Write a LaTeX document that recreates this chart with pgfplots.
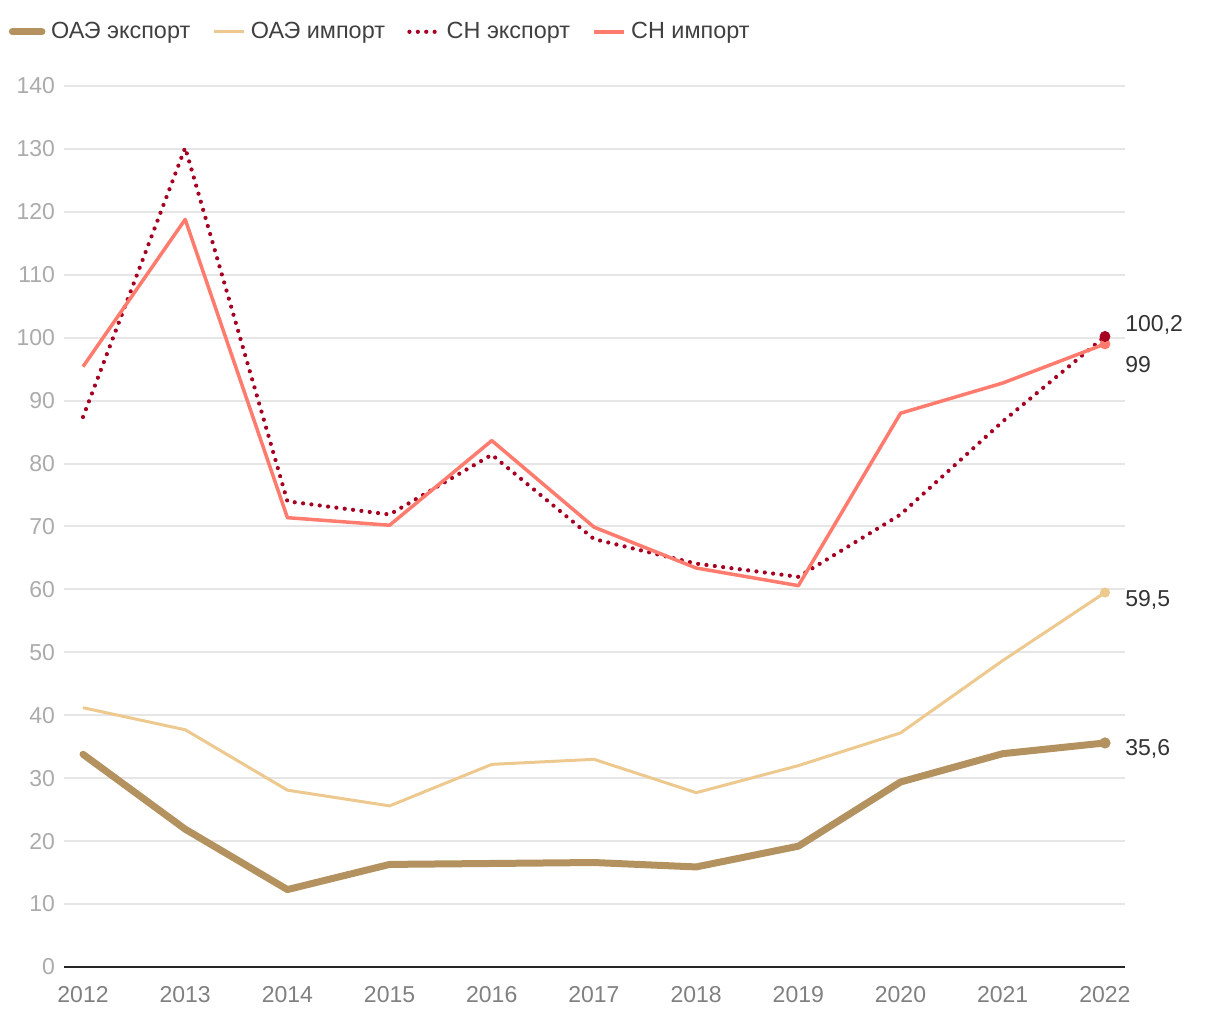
\documentclass[border=0pt]{standalone}
\usepackage{pgfplots}
\pgfplotsset{compat=1.18}
\usepackage{fontspec}
\setmainfont{Liberation Sans}
\definecolor{cBrown}{HTML}{B39260}
\definecolor{cTan}{HTML}{EDC98F}
\definecolor{cDark}{HTML}{A50021}
\definecolor{cSalmon}{HTML}{FF7B6E}
\definecolor{cGrid}{HTML}{E6E6E6}
\begin{document}
\begin{tikzpicture}
\useasboundingbox (-32pt,-26.5pt) rectangle (578pt,483.5pt);
\begin{axis}[
  at={(0pt,0pt)}, anchor=south west,
  scale only axis,
  width=530.5pt, height=440.5pt,
  xmin=2011.814, xmax=2022.196,
  ymin=0, ymax=140,
  xtick={2012,...,2022},
  ytick={0,10,...,140},
  /pgf/number format/1000 sep={},
  /pgf/number format/assume math mode=true,
  axis x line=bottom,
  axis y line=left,
  x axis line style={-, draw=black!85, line width=1.3pt},
  y axis line style={draw=none},
  major tick length=0pt,
  ymajorgrids,
  grid style={cGrid, line width=1pt},
  tick label style={font=\fontsize{11.5}{13}\selectfont},
  yticklabel style={text=black!33, xshift=-1pt},
  xticklabel style={text=black!50, yshift=-6pt},
  clip=false,
  legend columns=4,
  legend style={draw=none, fill=none, at={(-0.058,1.0615)}, anchor=west,
    font=\fontsize{11.7}{13}\selectfont, text=black!75,
    nodes={inner sep=1pt},
    /tikz/every odd column/.append style={column sep=1.8pt},
    /tikz/every even column/.append style={column sep=10.2pt}},
  legend cell align=left,
  legend image code/.code={\draw[#1] (0cm,0cm) -- (0.52cm,0cm);},
]
\addplot[cBrown, line width=3.5pt, line cap=round, line join=round] coordinates {
(2012,33.8) (2013,21.9) (2014,12.3) (2015,16.3) (2016,16.45) (2017,16.6)
(2018,15.9) (2019,19.2) (2020,29.4) (2021,33.9) (2022,35.6)};
\addlegendentry{ОАЭ экспорт}
\addplot[cTan, line width=1.5pt, line join=round] coordinates {
(2012,41.2) (2013,37.7) (2014,28.1) (2015,25.6) (2016,32.2) (2017,33.0)
(2018,27.7) (2019,32.0) (2020,37.2) (2021,48.7) (2022,59.5)};
\addlegendentry{ОАЭ импорт}
\addplot[cDark, line width=2.1pt, line cap=round, dash pattern=on 0pt off 4.2pt] coordinates {
(2012,87.4) (2013,130.2) (2014,74.0) (2015,71.9) (2016,81.4) (2017,68.0)
(2018,64.1) (2019,62.0) (2020,71.9) (2021,86.7) (2022,100.2)};
\addlegendentry{СН экспорт}
\addplot[cSalmon, line width=1.75pt, line join=round] coordinates {
(2012,95.4) (2013,118.8) (2014,71.4) (2015,70.2) (2016,83.65) (2017,69.9)
(2018,63.4) (2019,60.6) (2020,88.0) (2021,92.8) (2022,99.0)};
\addlegendentry{СН импорт}
% end markers
\addplot[only marks, mark=*, mark size=2.6pt, cBrown, forget plot] coordinates {(2022,35.6)};
\addplot[only marks, mark=*, mark size=2.3pt, cTan, forget plot] coordinates {(2022,59.5)};
\addplot[only marks, mark=*, mark size=2.5pt, cSalmon, forget plot] coordinates {(2022,99.0)};
\addplot[only marks, mark=*, mark size=2.5pt, cDark, forget plot] coordinates {(2022,100.2)};
\node[anchor=west, text=black!80, font=\fontsize{11.5}{13}\selectfont, inner sep=0pt]
  at ([xshift=10pt, yshift=5.5pt]axis cs:2022,100.2) {100,2};
\node[anchor=west, text=black!80, font=\fontsize{11.5}{13}\selectfont, inner sep=0pt]
  at ([xshift=10pt, yshift=-10.5pt]axis cs:2022,99) {99};
\node[anchor=west, text=black!80, font=\fontsize{11.5}{13}\selectfont, inner sep=0pt]
  at ([xshift=10pt, yshift=-3.5pt]axis cs:2022,59.5) {59,5};
\node[anchor=west, text=black!80, font=\fontsize{11.5}{13}\selectfont, inner sep=0pt]
  at ([xshift=10pt, yshift=-3pt]axis cs:2022,35.6) {35,6};
\end{axis}
\end{tikzpicture}
\end{document}
